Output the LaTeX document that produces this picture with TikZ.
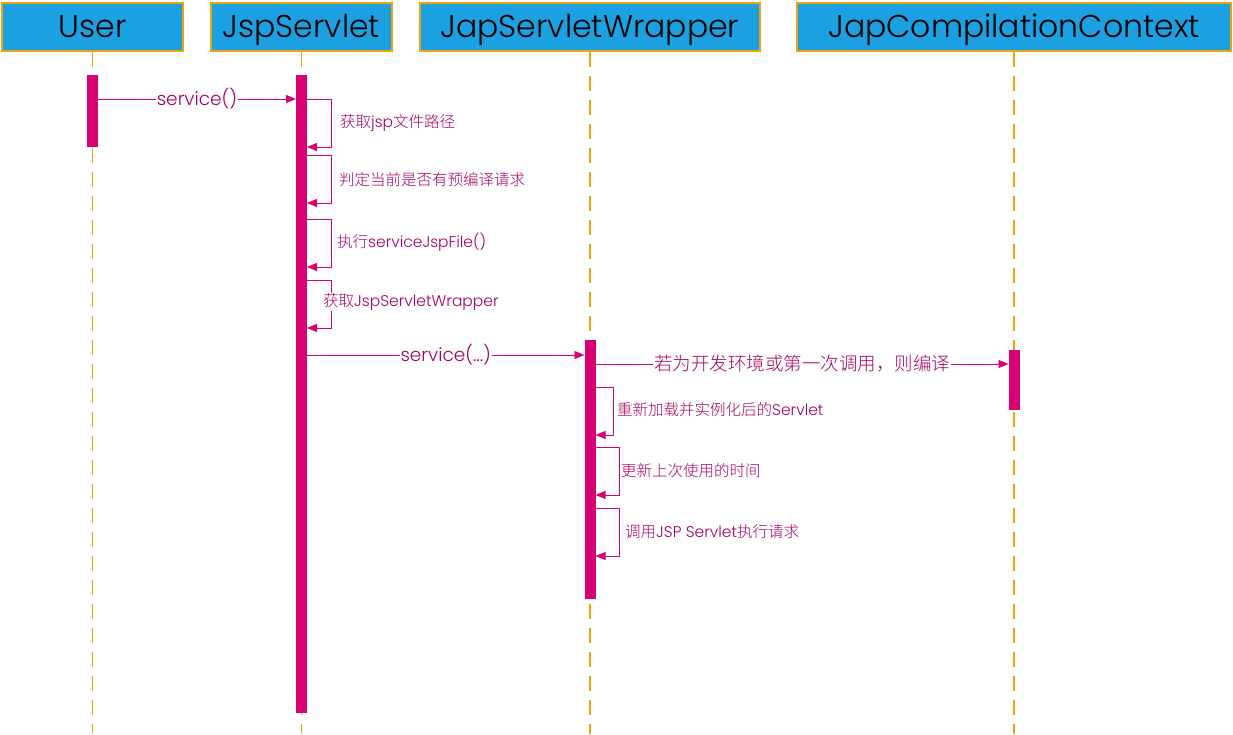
\documentclass[tikz,border=0pt]{standalone}
\usepackage{fontspec}
\setmainfont{Poppins}
\IfFontExistsTF{Poppins Light}{\newfontfamily\headfont{Poppins Light}}{\newfontfamily\headfont{Poppins}}
\IfFontExistsTF{Noto Sans CJK SC Light}{\newfontfamily\cjk{Noto Sans CJK SC Light}}{\newfontfamily\cjk{Noto Sans CJK SC}}
\usetikzlibrary{arrows.meta}
\definecolor{headblue}{HTML}{1BA1E2}
\definecolor{headline}{HTML}{F0A30A}
\definecolor{barred}{HTML}{D80073}
\definecolor{msgtext}{HTML}{A8005F}
\tikzset{
  head/.style={draw=headline, fill=headblue, line width=1.5pt, minimum height=48, inner sep=0pt,
    text height=24pt, text depth=4pt, font=\headfont\fontsize{31.5}{34}\selectfont},
  life/.style={draw=headline, line width=1.8pt, dash pattern=on 15pt off 9pt},
  actbar/.style={fill=barred, minimum width=11, inner sep=0pt, outer sep=0pt},
  msg/.style={draw=barred, line width=0.9pt, -{Triangle[length=10pt,width=8pt]}},
  lbl/.style={text=msgtext, fill=white, inner sep=1pt, font=\headfont\fontsize{15.5}{18}\selectfont},
  biglbl/.style={lbl, font=\headfont\fontsize{18.5}{21}\selectfont},
}
\begin{document}
\begin{tikzpicture}[x=1pt, y=-1pt]
    \useasboundingbox (0,0) rectangle (1233,734);
    \node[head, minimum width=181] (user) at (92.5,27) {User};
    \node[head, minimum width=181] (jsp) at (301.5,27) {JspServlet};
    \node[head, minimum width=340] (wrap) at (590,27) {JapServletWrapper};
    \node[head, minimum width=434] (ctx) at (1014,27) {JapCompilationContext};
    \foreach \n in {user,jsp,wrap,ctx}
        \draw[life] (\n.south) -- (\n.south |- 0,734);

    \node[actbar, minimum height=72] (ubar) at (92.5,111) {};
    \node[actbar, minimum height=638] (jbar) at (301.5,394) {};
    \node[actbar, minimum height=259] (wbar) at (590,469.5) {};
    \node[actbar, minimum height=60] (cbar) at (1014,380) {};

    \draw[msg] (ubar.east |- 0,99) -- node[biglbl] {service()} (jbar.west |- 0,99);
    \draw[msg] (jbar.east |- 0,99) -- ++(24,0) |- (jbar.east |- 0,147);
    \node[lbl, anchor=west] (l1) at (339,123) {{\cjk 获取}jsp{\cjk 文件路径}};
    \draw[msg] (jbar.east |- 0,155) -- ++(24,0) |- (jbar.east |- 0,203);
    \node[lbl, anchor=west] (l2) at (338,180) {\cjk 判定当前是否有预编译请求};
    \draw[msg] (jbar.east |- 0,219) -- ++(24,0) |- (jbar.east |- 0,267);
    \node[lbl, anchor=west] (l3) at (336,242) {{\cjk 执行}serviceJspFile()};
    \draw[msg] (jbar.east |- 0,280) -- ++(24,0) |- (jbar.east |- 0,328);
    \node[lbl, anchor=west] (l4) at (322,302) {{\cjk 获取}JspServletWrapper};

    \draw[msg] (jbar.east |- 0,355) -- node[biglbl] {service(...)} (wbar.west |- 0,355);
    \draw[msg] (wbar.east |- 0,364) -- node[biglbl] {\cjk 若为开发环境或第一次调用，则编译} (cbar.west |- 0,364);

    \draw[msg] (wbar.east |- 0,387) -- ++(18,0) |- (wbar.east |- 0,435);
    \node[lbl, anchor=west] (l5) at (616,410) {{\cjk 重新加载并实例化后的}Servlet};
    \draw[msg] (wbar.east |- 0,447) -- ++(24,0) |- (wbar.east |- 0,495);
    \node[lbl, anchor=west] (l6) at (620,471) {\cjk 更新上次使用的时间};
    \draw[msg] (wbar.east |- 0,508) -- ++(24,0) |- (wbar.east |- 0,556);
    \node[lbl, anchor=west] (l7) at (624,532) {{\cjk 调用}JSP Servlet{\cjk 执行请求}};
\end{tikzpicture}
\end{document}
